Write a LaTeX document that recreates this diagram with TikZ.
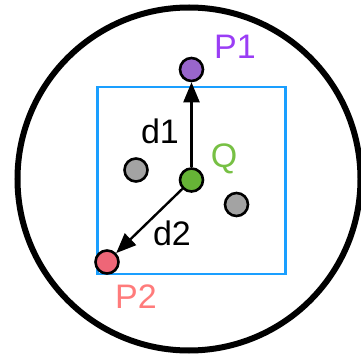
\documentclass[tikz,border=0pt]{standalone}
\usepackage{fontspec}
\setmainfont{Liberation Sans}
\usetikzlibrary{arrows.meta}
\definecolor{pone}{HTML}{9966CC}
\definecolor{ponetext}{HTML}{9A3DF5}
\definecolor{qfill}{HTML}{66B336}
\definecolor{qtext}{HTML}{77C044}
\definecolor{ptwo}{HTML}{EE6677}
\definecolor{ptwotext}{HTML}{FF7B7B}
\definecolor{grayfill}{HTML}{A3A3A3}
\definecolor{boxblue}{HTML}{1A9FFF}
\tikzset{
  pt/.style={circle, draw=black, line width=2.6pt, minimum size=23pt, inner sep=0pt},
  lbl/.style={font=\fontsize{34}{36}\selectfont, inner sep=0pt},
  arr/.style={line width=2.4pt, -{Triangle[length=20pt,width=16pt]}}
}
\begin{document}
\begin{tikzpicture}[x=1pt,y=-1pt]
\useasboundingbox (0,0) rectangle (361,358);
\node[circle, draw=black, line width=6pt, minimum size=343pt, inner sep=0pt] (outer) at (189,179) {};
\node[draw=boxblue, line width=2.6pt, minimum width=188pt, minimum height=187pt, inner sep=0pt] (box) at (191.5,180.5) {};
\node[pt, fill=grayfill] (g1) at (136,170) {};
\node[pt, fill=grayfill] (g2) at (236.5,204.5) {};
\node[pt, fill=pone] (p1) at (191.5,69.5) {};
\node[pt, fill=qfill] (q) at (191.5,180) {};
\node[pt, fill=ptwo] (p2) at (107,262) {};
\draw[arr] (q) -- (p1);
\draw[arr] (q) -- (p2);
\node[lbl, text=ponetext] (lp1) at (235,47) {P1};
\node[lbl, text=qtext] (lq) at (224,159) {Q};
\node[lbl] (ld1) at (160,131) {d1};
\node[lbl] (ld2) at (172,233) {d2};
\node[lbl, text=ptwotext] (lp2) at (136,297) {P2};
\end{tikzpicture}
\end{document}
